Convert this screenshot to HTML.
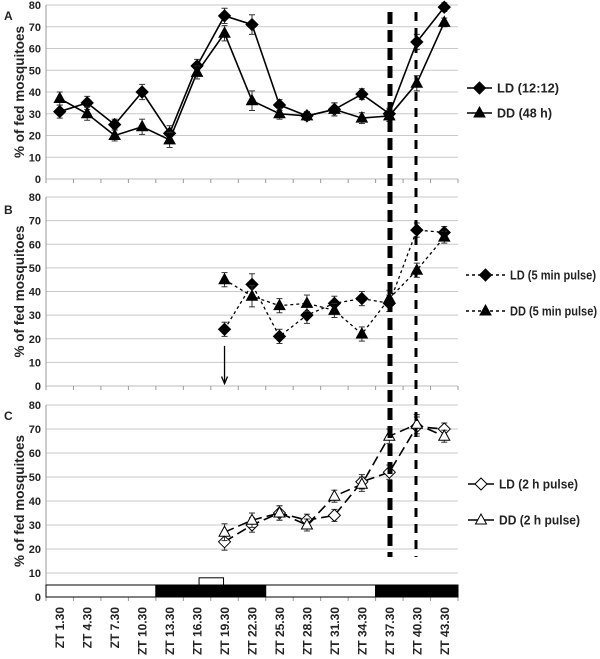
<!DOCTYPE html>
<html><head><meta charset="utf-8">
<style>
html,body{margin:0;padding:0;background:#fff;}
svg{display:block;font-family:"Liberation Sans",Arial,sans-serif;font-weight:bold;}
</style></head>
<body>
<svg id="chart" width="600" height="659" viewBox="0 0 600 659" xmlns="http://www.w3.org/2000/svg"></svg>
<script>
const categories = ["ZT 1.30","ZT 4.30","ZT 7.30","ZT 10.30","ZT 13.30","ZT 16.30","ZT 19.30","ZT 22.30","ZT 25.30","ZT 28.30","ZT 31.30","ZT 34.30","ZT 37.30","ZT 40.30","ZT 43.30"];
const yTicks = [0,10,20,30,40,50,60,70,80];
const aLD = [31,35,25,40,21,52,75,71,34,29,32,39,30,63,79];
const aDD = [37,30,20,24,18,49,67,36,30,29,32,28,29,44,72];
const bStart = 6;
const bLD = [24,43,21,30,35,37,35,66,65];
const bDD = [45,38,34,35,32,22,37,49,63];
const cStart = 6;
const cLD = [23,30,35,32,34,48,52,71,70];
const cDD = [27,32,35,30,42,47,67,72,67];
const errA = [3,3,2.5,3.5,3.5,3,3.5,4.5,2.5,2,3,2.5,2.5,3.5,2];
const errB = [3,4.5,3,3.5,3,3,3.5,3,2.5];
const errC = [3.5,3,3,2.5,2.5,3,3,4,2.5];

const svg = document.getElementById('chart');
const NS = 'http://www.w3.org/2000/svg';
function el(tag, attrs, parent){const e=document.createElementNS(NS,tag);for(const k in attrs)e.setAttribute(k,attrs[k]);(parent||svg).appendChild(e);return e;}

const X0=46, X1=458, n=categories.length, bw=(X1-X0)/n;
function xPos(i){return X0+bw*(i+0.5);}
const panels = [
  {name:'a', top:5, bottom:179, letter:'A', ly:20},
  {name:'b', top:197, bottom:386, letter:'B', ly:214},
  {name:'c', top:405, bottom:597, letter:'C', ly:420}
];
function yScale(p){return v=>p.bottom-(p.bottom-p.top)*v/80;}

panels.forEach(p=>{
  const g=el('g',{});
  
  
  const y=yScale(p);
  yTicks.forEach(t=>{
    const gl=el('line',{x1:X0,x2:X1,y1:y(t),y2:y(t),stroke:t===0?'#bbb':'#c8c8c8','stroke-width':1},g);
    
    
    const tl=el('text',{x:X0-5,y:y(t)+4,'text-anchor':'end','font-size':11,fill:'#222'},g);
    tl.textContent=t;
    
    
  });
  el('line',{x1:X0,x2:X0,y1:p.top,y2:p.bottom,stroke:'#999'},g);
  for(let i=0;i<=n;i++) el('line',{x1:X0+bw*i,x2:X0+bw*i,y1:p.bottom,y2:p.bottom+4,stroke:'#999'},g);
  const yt=el('text',{transform:`translate(24,${(p.top+p.bottom)/2}) rotate(-90)`,'text-anchor':'middle','font-size':13.5,fill:'#222'},g);
  yt.textContent='% of fed mosquitoes';
  
  
  const lt=el('text',{x:4,y:p.ly,'font-size':12,fill:'#222'},g);
  lt.textContent=p.letter;
  
  
});

// light/dark bars in panel C
const pc=panels[2], yc=yScale(pc);
const barsData=[[0,4,'#fff'],[4,8,'#000'],[8,12,'#fff'],[12,15,'#000']];
barsData.forEach(b=>{
  const r=el('rect',{x:X0+bw*b[0],y:yc(5),width:bw*(b[1]-b[0]),height:yc(0)-yc(5),fill:b[2],stroke:'#000','stroke-width':1});
  
  
});
const pulse=el('rect',{x:xPos(5)+2,y:yc(8),width:bw-3,height:yc(5)-yc(8),fill:'#fff',stroke:'#000'});



// x labels
categories.forEach((c,i)=>{
  const t=el('text',{transform:`translate(${xPos(i)+4.5},607) rotate(-90)`,'text-anchor':'end','font-size':12,fill:'#222'});
  t.textContent=c;
  
  
});

function marker(g,type,x,y,fill){
  if(type==='d') return el('polygon',{points:`${x},${y-6} ${x+6},${y} ${x},${y+6} ${x-6},${y}`,fill:fill,stroke:'#000','stroke-width':1},g);
  return el('polygon',{points:`${x},${y-6} ${x+5.5},${y+4} ${x-5.5},${y+4}`,fill:fill,stroke:'#000','stroke-width':1},g);
}
function series(name,pi,vals,start,errs,type,dash,fill){
  const p=panels[pi], y=yScale(p);
  const g=el('g',{});
  
  
  const pts=vals.map((v,k)=>[xPos(start+k),y(v)]);
  const pl=el('polyline',{points:pts.map(q=>q.join(',')).join(' '),fill:'none',stroke:'#000','stroke-width':dash==='3,3'?1.3:1.6,'stroke-dasharray':dash},g);
  
  
  vals.forEach((v,k)=>{
    const x=xPos(start+k), e=errs[k];
    el('line',{x1:x,x2:x,y1:y(v+e),y2:y(v-e),stroke:'#333'},g);
    el('line',{x1:x-3,x2:x+3,y1:y(v+e),y2:y(v+e),stroke:'#333'},g);
    el('line',{x1:x-3,x2:x+3,y1:y(v-e),y2:y(v-e),stroke:'#333'},g);
  });
  vals.forEach((v,k)=>{
    const m=marker(g,type,xPos(start+k),y(v),fill);
    
    
  });
}
series('series-a-ld',0,aLD,0,errA,'d','none','#000');
series('series-a-dd',0,aDD,0,errA,'t','none','#000');
series('series-b-ld',1,bLD,bStart,errB,'d','3,3','#000');
series('series-b-dd',1,bDD,bStart,errB,'t','3,3','#000');
series('series-c-ld',2,cLD,cStart,errC,'d','10,5','#fff');
series('series-c-dd',2,cDD,cStart,errC,'t','10,5','#fff');

// arrow in B
const pb=panels[1], yb=yScale(pb);
const ar=el('g',{});


el('line',{x1:xPos(6),x2:xPos(6),y1:yb(17),y2:yb(1),stroke:'#000','stroke-width':1.3},ar);
el('polyline',{points:`${xPos(6)-3},${yb(4)} ${xPos(6)},${yb(1)} ${xPos(6)+3},${yb(4)}`,fill:'none',stroke:'#000','stroke-width':1.3},ar);

// vertical dashed lines
const v1=el('line',{x1:390,x2:390,y1:12,y2:557,stroke:'#000','stroke-width':5,'stroke-dasharray':'12,6'});


const v2=el('line',{x1:416,x2:416,y1:12,y2:557,stroke:'#000','stroke-width':3,'stroke-dasharray':'9,7'});



// legends
function legend(name,y,type,dash,fill,label,x0,x1,tw){
  const g=el('g',{});
  
  
  el('line',{x1:x0,x2:x1,y1:y,y2:y,stroke:'#000','stroke-width':1.5,'stroke-dasharray':dash},g);
  marker(g,type,(x0+x1)/2,y,fill);
  const t=el('text',{x:x1+5,y:y+4.5,'font-size':12.5,fill:'#222',textLength:tw,lengthAdjust:'spacingAndGlyphs'},g);
  t.textContent=label;
}
legend('legend-a-ld',88,'d','none','#000','LD (12:12)',467,492,62);
legend('legend-a-dd',113,'t','none','#000','DD (48 h)',467,492,55);
legend('legend-b-ld',275,'d','3,3','#000','LD (5 min pulse)',466,505,86);
legend('legend-b-dd',311,'t','3,3','#000','DD (5 min pulse)',466,505,87);
legend('legend-c-ld',484,'d','none','#fff','LD (2 h pulse)',468,494,79);
legend('legend-c-dd',520,'t','none','#fff','DD (2 h pulse)',468,494,81);
</script>
</body></html>
